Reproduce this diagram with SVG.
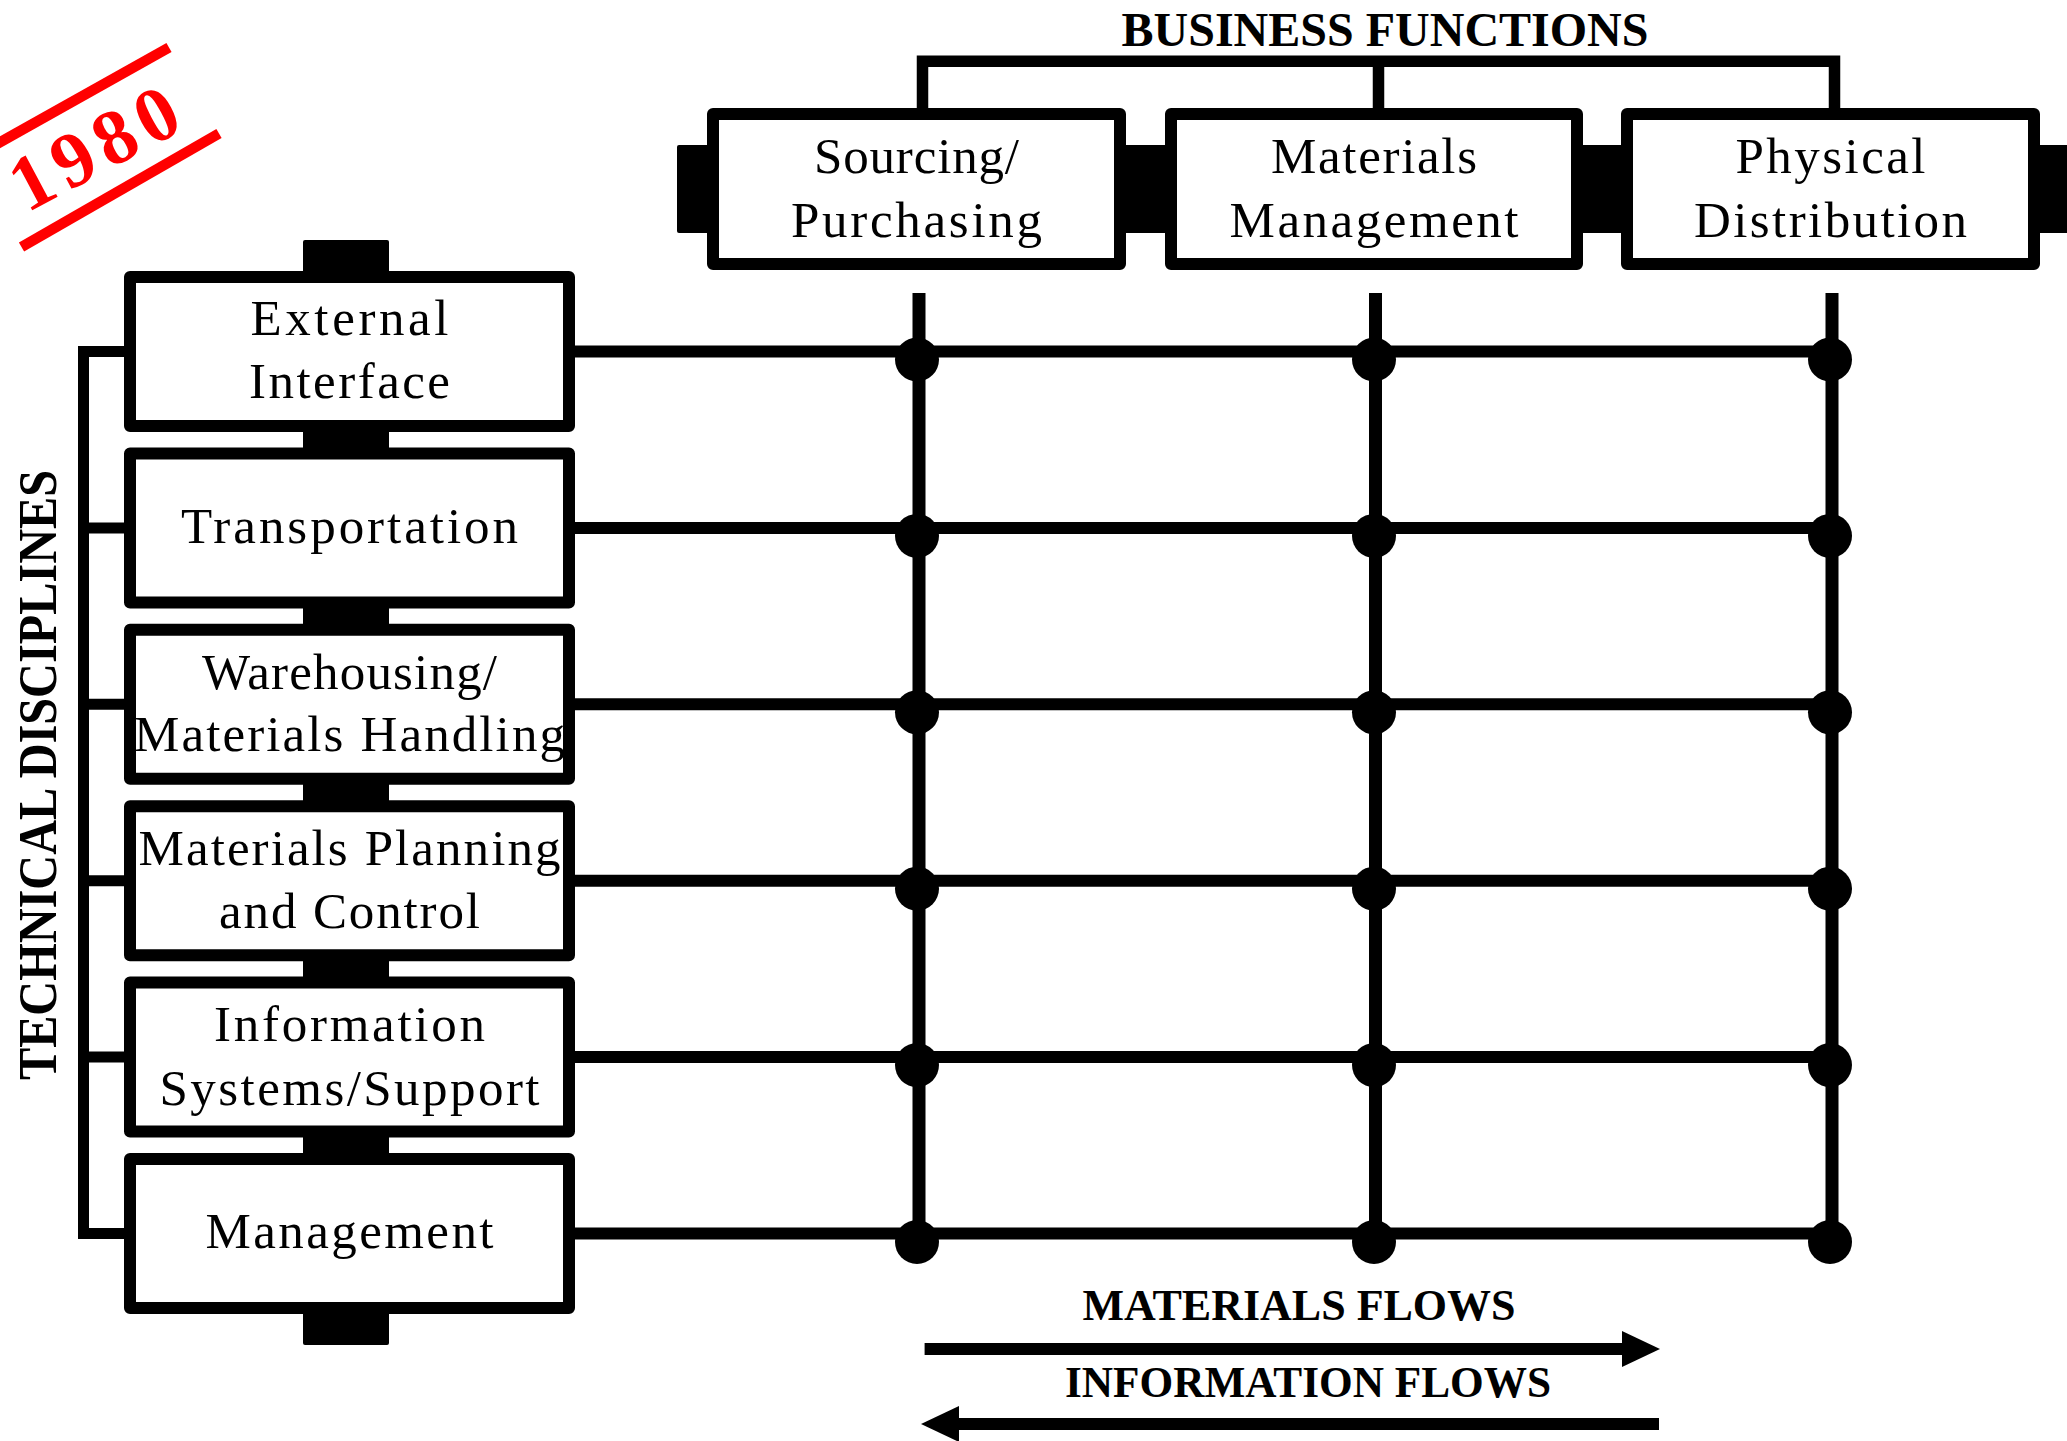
<svg xmlns="http://www.w3.org/2000/svg" width="2067" height="1441" viewBox="0 0 2067 1441">
<defs>
<style>
.box{fill:#fff;stroke:#000;stroke-width:12;stroke-linejoin:round}
.tab{fill:#000}
.lbl{font-family:"Liberation Serif","Times New Roman",serif;font-size:51px;fill:#000;text-anchor:middle}
.ttl{font-family:"Liberation Serif","Times New Roman",serif;font-weight:bold;fill:#000;text-anchor:middle}
.stamp{font-family:"Liberation Serif","Times New Roman",serif;font-weight:bold;font-size:78px;letter-spacing:8px;fill:#ff0000;text-anchor:middle}
.ln{stroke:#000;fill:none;stroke-linecap:butt}
.dot{fill:#000}
</style>
<marker id="ah" markerUnits="userSpaceOnUse" markerWidth="38" markerHeight="36" refX="0" refY="17.5" orient="auto-start-reverse" viewBox="0 0 37 35">
<path d="M0,0 L37,17.5 L0,35 Z" fill="#000"/>
</marker>
</defs>
<rect width="2067" height="1441" fill="#fff"/>

<g id="stamp-1980">
<line x1="-12" y1="149" x2="169" y2="47.5" stroke="#ff0000" stroke-width="10.5"/>
<line x1="21.5" y1="247" x2="219" y2="133.5" stroke="#ff0000" stroke-width="10.5"/>
<text class="stamp" transform="translate(94,148) rotate(-28)" x="4" y="26">1980</text>
</g>

<g id="title-business">
<text class="ttl" x="1385" y="46" font-size="48" textLength="527" lengthAdjust="spacingAndGlyphs">BUSINESS FUNCTIONS</text>
</g>
<g id="title-technical">
<text class="ttl" transform="translate(56,775) rotate(-90)" x="0" y="0" font-size="55" textLength="610" lengthAdjust="spacingAndGlyphs">TECHNICAL DISCIPLINES</text>
</g>

<g id="connectors">
<path class="ln" d="M922.5,108 V61.3 H1834.5 V108" stroke-width="11.5" stroke-linejoin="miter"/>
<line class="ln" x1="1378.5" y1="61" x2="1378.5" y2="108" stroke-width="11.5"/>
<path class="ln" d="M124,351.5 H83.5 V1233.5 H124" stroke-width="11" stroke-linejoin="miter"/>
<line class="ln" x1="83.5" y1="527.9" x2="124" y2="527.9" stroke-width="11"/>
<line class="ln" x1="83.5" y1="704.3" x2="124" y2="704.3" stroke-width="11"/>
<line class="ln" x1="83.5" y1="880.7" x2="124" y2="880.7" stroke-width="11"/>
<line class="ln" x1="83.5" y1="1057.1" x2="124" y2="1057.1" stroke-width="11"/>
<line class="ln" x1="919" y1="293" x2="919" y2="1240" stroke-width="13"/>
<line class="ln" x1="1375.5" y1="293" x2="1375.5" y2="1240" stroke-width="13"/>
<line class="ln" x1="1832" y1="293" x2="1832" y2="1240" stroke-width="13"/>
<line class="ln" x1="575" y1="351.5" x2="1830" y2="351.5" stroke-width="12"/>
<line class="ln" x1="575" y1="527.9" x2="1830" y2="527.9" stroke-width="12"/>
<line class="ln" x1="575" y1="704.3" x2="1830" y2="704.3" stroke-width="12"/>
<line class="ln" x1="575" y1="880.7" x2="1830" y2="880.7" stroke-width="12"/>
<line class="ln" x1="575" y1="1057.1" x2="1830" y2="1057.1" stroke-width="12"/>
<line class="ln" x1="575" y1="1233.5" x2="1830" y2="1233.5" stroke-width="12"/>
<g class="dot">
<circle cx="917" cy="359.5" r="22"/><circle cx="1374" cy="359.5" r="22"/><circle cx="1830" cy="359.5" r="22"/>
<circle cx="917" cy="535.9" r="22"/><circle cx="1374" cy="535.9" r="22"/><circle cx="1830" cy="535.9" r="22"/>
<circle cx="917" cy="712.3" r="22"/><circle cx="1374" cy="712.3" r="22"/><circle cx="1830" cy="712.3" r="22"/>
<circle cx="917" cy="888.7" r="22"/><circle cx="1374" cy="888.7" r="22"/><circle cx="1830" cy="888.7" r="22"/>
<circle cx="917" cy="1065.1" r="22"/><circle cx="1374" cy="1065.1" r="22"/><circle cx="1830" cy="1065.1" r="22"/>
<circle cx="917" cy="1242" r="22"/><circle cx="1374" cy="1242" r="22"/><circle cx="1830" cy="1242" r="22"/>
</g>
<line class="ln" x1="924.6" y1="1349" x2="1622" y2="1349" stroke-width="12" marker-end="url(#ah)"/>
<line class="ln" x1="959" y1="1424" x2="1659" y2="1424" stroke-width="12" marker-start="url(#ah)"/>
</g>

<g id="business-tabs" class="tab">
<rect x="677" y="145" width="32" height="88" rx="2"/>
<rect x="1124" y="145" width="43" height="88"/>
<rect x="1581" y="145" width="42" height="88"/>
<rect x="2038" y="145" width="29" height="88"/>
</g>
<g id="discipline-tabs" class="tab">
<rect x="303" y="240" width="86" height="33" rx="2"/>
<rect x="303" y="430" width="86" height="20"/>
<rect x="303" y="606" width="86" height="20"/>
<rect x="303" y="782" width="86" height="20"/>
<rect x="303" y="959" width="86" height="20"/>
<rect x="303" y="1135" width="86" height="20"/>
<rect x="303" y="1312" width="86" height="33" rx="2"/>
</g>

<g id="node-sourcing">
<rect class="box" x="713" y="114" width="407" height="150"/>
<text class="lbl" x="916.5" y="173" textLength="205" lengthAdjust="spacing">Sourcing/</text>
<text class="lbl" x="916.5" y="237" textLength="251" lengthAdjust="spacing">Purchasing</text>
</g>
<g id="node-materials-management">
<rect class="box" x="1171" y="114" width="406" height="150"/>
<text class="lbl" x="1374" y="173" textLength="206" lengthAdjust="spacing">Materials</text>
<text class="lbl" x="1374" y="237" textLength="289" lengthAdjust="spacing">Management</text>
</g>
<g id="node-physical-distribution">
<rect class="box" x="1627" y="114" width="407" height="150"/>
<text class="lbl" x="1830.5" y="173" textLength="190" lengthAdjust="spacing">Physical</text>
<text class="lbl" x="1830.5" y="237" textLength="273" lengthAdjust="spacing">Distribution</text>
</g>

<g id="node-external-interface">
<rect class="box" x="130" y="277" width="439" height="149"/>
<text class="lbl" x="349.5" y="335" textLength="198" lengthAdjust="spacing">External</text>
<text class="lbl" x="349.5" y="398" textLength="201" lengthAdjust="spacing">Interface</text>
</g>
<g id="node-transportation">
<rect class="box" x="130" y="453.4" width="439" height="149"/>
<text class="lbl" x="349.5" y="542.5" textLength="337" lengthAdjust="spacing">Transportation</text>
</g>
<g id="node-warehousing">
<rect class="box" x="130" y="629.8" width="439" height="149"/>
<text class="lbl" x="349.5" y="689" textLength="295" lengthAdjust="spacing">Warehousing/</text>
<text class="lbl" x="349.5" y="751" textLength="431" lengthAdjust="spacing">Materials Handling</text>
</g>
<g id="node-materials-planning">
<rect class="box" x="130" y="806.2" width="439" height="149"/>
<text class="lbl" x="349.5" y="865" textLength="422" lengthAdjust="spacing">Materials Planning</text>
<text class="lbl" x="349.5" y="928" textLength="261" lengthAdjust="spacing">and Control</text>
</g>
<g id="node-information-systems">
<rect class="box" x="130" y="982.6" width="439" height="149"/>
<text class="lbl" x="349.5" y="1041" textLength="271" lengthAdjust="spacing">Information</text>
<text class="lbl" x="349.5" y="1105" textLength="380" lengthAdjust="spacing">Systems/Support</text>
</g>
<g id="node-management">
<rect class="box" x="130" y="1159" width="439" height="149"/>
<text class="lbl" x="349.5" y="1248" textLength="288" lengthAdjust="spacing">Management</text>
</g>

<g id="flow-labels">
<text class="ttl" x="1299" y="1320" font-size="44" textLength="433" lengthAdjust="spacingAndGlyphs">MATERIALS FLOWS</text>
<text class="ttl" x="1308" y="1397" font-size="44" textLength="486" lengthAdjust="spacingAndGlyphs">INFORMATION FLOWS</text>
</g>
</svg>
